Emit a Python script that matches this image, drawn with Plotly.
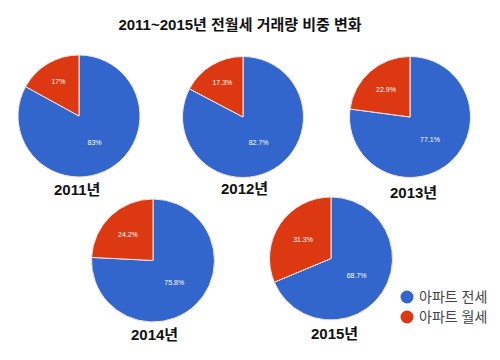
import plotly.graph_objects as go

title = "2011~2015년 전월세 거래량 비중 변화"
years = ["2011년", "2012년", "2013년", "2014년", "2015년"]
series_names = ["아파트 전세", "아파트 월세"]
jeonse = [83, 82.7, 77.1, 75.8, 68.7]
wolse = [17, 17.3, 22.9, 24.2, 31.3]
colors = ["#3366CC", "#DC3912"]

# page has an 8px body margin, so the figure is drawn 8px in from the window corner
OFF = 8
W, H = 500 - OFF, 360 - OFF
# pie centres / radii in window pixels, label positions in window pixels
centers = [(79, 116, 61), (243, 117, 60.5), (410, 117, 60.5), (153, 260.5, 61.5), (331, 258.5, 61.5)]
label_pos = [(77, 189), (244, 188), (413, 192), (154, 334), (334, 333)]
legend_pos = [(407, 297), (407, 317)]


def px(x):
    return (x - OFF) / W


def py(y):
    return 1 - (y - OFF) / H


FONT = "Liberation Sans, Arial, Noto Sans CJK KR, sans-serif"

fig = go.Figure()
for i, (cx, cy, r) in enumerate(centers):
    fig.add_trace(go.Pie(
        labels=series_names,
        values=[jeonse[i], wolse[i]],
        sort=False,
        direction="clockwise",
        rotation=0,
        marker=dict(colors=colors, line=dict(color="#f3e6e6", width=1)),
        texttemplate="%{value}%",
        textposition="inside",
        insidetextorientation="horizontal",
        textfont=dict(color="white", size=7, family=FONT),
        domain=dict(x=[px(cx - r), px(cx + r)], y=[py(cy + r), py(cy - r)]),
        showlegend=False,
        hoverinfo="label+percent",
    ))

for yr, (lx, ly) in zip(years, label_pos):
    fig.add_annotation(text="<b>" + yr + "</b>", x=px(lx), y=py(ly), xref="paper", yref="paper",
                       showarrow=False, xanchor="center", yanchor="middle",
                       font=dict(size=15, color="#111", family=FONT))

# legend: circle + text
rr = 6.5
for name, c, (lx, ly) in zip(series_names, colors, legend_pos):
    fig.add_shape(type="circle", xref="paper", yref="paper",
                  x0=px(lx - rr), x1=px(lx + rr), y0=py(ly + rr), y1=py(ly - rr),
                  fillcolor=c, line=dict(width=0))
    fig.add_annotation(text=name, x=px(lx + 10), y=py(ly), xref="paper", yref="paper",
                       showarrow=False, xanchor="left", yanchor="middle",
                       font=dict(size=14, color="#444", family=FONT))

fig.update_layout(
    width=W, height=H,
    margin=dict(l=0, r=0, t=0, b=0),
    paper_bgcolor="white", plot_bgcolor="white",
    title=dict(text="<b>" + title + "</b>", x=px(240), xanchor="center", y=py(25), yanchor="middle",
               font=dict(size=15, color="#111", family=FONT)),
    showlegend=False,
)

fig.write_html("out.html")
